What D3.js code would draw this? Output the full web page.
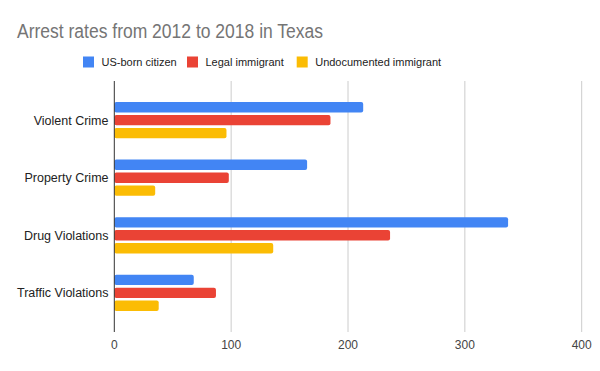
<!DOCTYPE html>
<html>
<head>
<meta charset="utf-8">
<script src="https://cdn.jsdelivr.net/npm/d3@7"></script>
<style>
  body { margin: 0; background: #fff; }
  text { font-family: Arial, "Liberation Sans", sans-serif; }
</style>
</head>
<body>
<div id="chart"></div>
<script>
const categories = ['Violent Crime', 'Property Crime', 'Drug Violations', 'Traffic Violations'];
const seriesNames = ['US-born citizen', 'Legal immigrant', 'Undocumented immigrant'];
const usBorn = [213, 165, 337, 68];
const legal = [185, 98, 236, 87];
const undocumented = [96, 35, 136, 38];
const xTicks = [0, 100, 200, 300, 400];
const colors = ['#4285f4', '#ea4335', '#fbbc04'];

const seriesValues = [usBorn, legal, undocumented];
const data = categories.map((c, i) => ({
  key: c,
  values: seriesNames.map((s, j) => ({ series: s, value: seriesValues[j][i] }))
}));

const width = 600, height = 371;
const margin = { top: 81, right: 18.3, bottom: 39, left: 114.3 };

const svg = d3.select('#chart').append('svg')
  .attr('width', width)
  .attr('height', height);

// title is a little condensed in the original
svg.append('text')
  .attr('x', 17)
  .attr('y', 37.7)
  .attr('font-size', 20)
  .attr('fill', '#757575')
  .attr('textLength', 306)
  .attr('lengthAdjust', 'spacingAndGlyphs')
  .text('Arrest rates from 2012 to 2018 in Texas');

// legend
const legendX = [83, 187, 296.7];
const legend = svg.append('g');
seriesNames.forEach((s, i) => {
  legend.append('rect')
    .attr('x', legendX[i]).attr('y', 56.5)
    .attr('width', 11).attr('height', 11)
    .attr('fill', colors[i]);
  legend.append('text')
    .attr('x', legendX[i] + 18.5).attr('y', 66)
    .attr('font-size', 11).attr('fill', '#222')
    .text(s);
});

const x = d3.scaleLinear()
  .domain([0, 400])
  .range([margin.left, width - margin.right]);

const y = d3.scaleBand()
  .domain(categories)
  .range([margin.top, height - margin.bottom])
  .paddingInner(0)
  .paddingOuter(0.18);

const groupH = 36.2;
const ySeries = d3.scaleBand()
  .domain(seriesNames)
  .range([0, groupH])
  .paddingInner(0.2);

// grid
svg.append('g')
  .selectAll('line')
  .data(xTicks.slice(1))
  .enter().append('line')
  .attr('x1', d => x(d)).attr('x2', d => x(d))
  .attr('y1', margin.top).attr('y2', height - margin.bottom)
  .attr('stroke', '#cccccc');

// bars
const groups = svg.append('g')
  .selectAll('g')
  .data(data)
  .enter().append('g')
  .attr('transform', d => `translate(0,${y(d.key) + y.bandwidth() / 2 - groupH / 2})`);

groups.selectAll('rect')
  .data(d => d.values)
  .enter().append('rect')
  .attr('x', x(0))
  .attr('y', d => ySeries(d.series))
  .attr('width', d => x(d.value) - x(0))
  .attr('height', ySeries.bandwidth())
  .attr('rx', 2)
  .attr('fill', (d, i) => colors[i]);

// category labels
svg.append('g')
  .selectAll('text')
  .data(categories)
  .enter().append('text')
  .attr('x', 108.5)
  .attr('y', d => y(d) + y.bandwidth() / 2 + 4.5)
  .attr('text-anchor', 'end')
  .attr('font-size', 12.5)
  .attr('fill', '#222')
  .text(d => d);

// baseline
svg.append('line')
  .attr('x1', x(0)).attr('x2', x(0))
  .attr('y1', margin.top).attr('y2', height - margin.bottom)
  .attr('stroke', '#333');

// x tick labels
svg.append('g')
  .selectAll('text')
  .data(xTicks)
  .enter().append('text')
  .attr('x', d => x(d))
  .attr('y', 349)
  .attr('text-anchor', 'middle')
  .attr('font-size', 12)
  .attr('fill', '#444')
  .text(d => d);
</script>
</body>
</html>
